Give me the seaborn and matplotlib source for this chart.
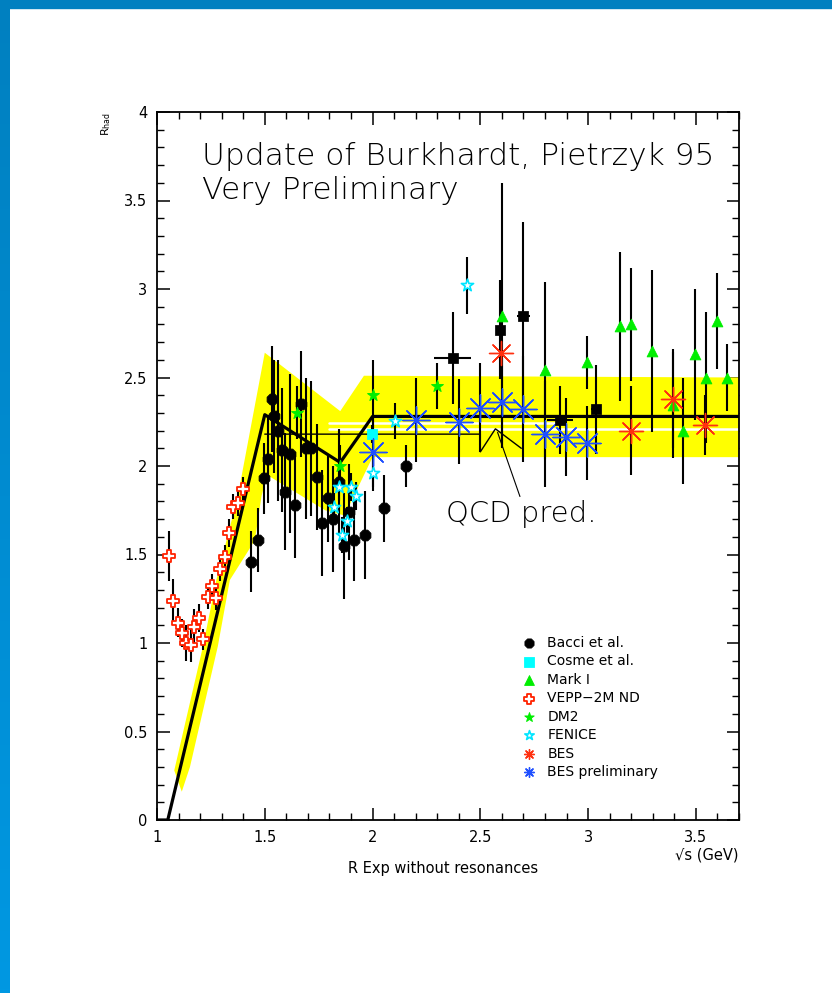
import numpy as np
import pandas as pd
import matplotlib
matplotlib.use("Agg")
import matplotlib.pyplot as plt
import seaborn as sns
from matplotlib.ticker import MultipleLocator
from matplotlib.patches import Rectangle

# ---------------- data ----------------
bacci_x = [1.438, 1.469, 1.495, 1.515, 1.534, 1.542, 1.562, 1.580, 1.593, 1.617, 1.642, 1.667, 1.693,
           1.716, 1.742, 1.767, 1.793, 1.816, 1.844, 1.866, 1.890, 1.912, 1.963, 2.052, 2.153]
bacci_y = [1.46, 1.58, 1.93, 2.04, 2.38, 2.28, 2.20, 2.09, 1.855, 2.07, 1.78, 2.35, 2.10,
           2.10, 1.94, 1.68, 1.82, 1.70, 1.91, 1.55, 1.74, 1.58, 1.61, 1.76, 2.00]
bacci_err = [0.17, 0.18, 0.20, 0.25, 0.30, 0.32, 0.40, 0.35, 0.33, 0.45, 0.30, 0.30, 0.40,
             0.38, 0.30, 0.30, 0.25, 0.30, 0.30, 0.30, 0.27, 0.23, 0.25, 0.19, 0.12]

other_x = [2.372, 2.591, 2.699, 2.868, 3.035]
other_y = [2.61, 2.77, 2.85, 2.26, 2.32]
other_yerr = [0.26, 0.28, 0.53, 0.19, 0.25]
other_xerr = [0.085, 0.02, 0.03, 0.06, 0.02]

cosme_x = [1.997]
cosme_y = [2.18]
cosme_err = [0.05]

mark_x = [2.599, 2.80, 2.997, 3.147, 3.197, 3.298, 3.395, 3.44, 3.495, 3.546, 3.596, 3.645]
mark_y = [2.85, 2.54, 2.585, 2.79, 2.80, 2.65, 2.345, 2.20, 2.63, 2.50, 2.82, 2.50]
mark_err = [0.75, 0.50, 0.15, 0.42, 0.32, 0.46, 0.30, 0.30, 0.37, 0.37, 0.27, 0.19]

vepp_x = [1.056, 1.076, 1.096, 1.116, 1.134, 1.156, 1.173, 1.194, 1.214, 1.235, 1.255, 1.276,
          1.293, 1.315, 1.333, 1.353, 1.376, 1.397]
vepp_y = [1.49, 1.24, 1.115, 1.056, 1.00, 0.99, 1.09, 1.14, 1.02, 1.26, 1.32, 1.256,
          1.42, 1.485, 1.62, 1.77, 1.79, 1.87]
vepp_err = [0.14, 0.12, 0.08, 0.08, 0.10, 0.10, 0.10, 0.08, 0.06, 0.07, 0.07, 0.07,
            0.07, 0.07, 0.08, 0.07, 0.07, 0.07]

dm2_x = [1.651, 1.85, 2.0, 2.30]
dm2_y = [2.30, 2.00, 2.40, 2.45]
dm2_err = [0.15, 0.12, 0.20, 0.13]

fenice_x = [1.82, 1.844, 1.86, 1.881, 1.898, 1.921, 2.0, 2.102, 2.438]
fenice_y = [1.77, 1.88, 1.61, 1.69, 1.88, 1.83, 1.96, 2.255, 3.02]
fenice_err = [0.08, 0.08, 0.10, 0.08, 0.08, 0.08, 0.10, 0.10, 0.16]

bes_x = [2.596, 3.197, 3.395, 3.544]
bes_y = [2.64, 2.20, 2.38, 2.23]
bes_err = [0.10, 0.25, 0.28, 0.17]

besp_x = [2.0, 2.202, 2.403, 2.5, 2.6, 2.699, 2.8, 2.897, 2.997]
besp_y = [2.08, 2.26, 2.25, 2.33, 2.36, 2.32, 2.18, 2.165, 2.13]
besp_err = [0.20, 0.24, 0.24, 0.25, 0.25, 0.30, 0.30, 0.22, 0.21]

theory_x = [1.0, 1.05, 1.50, 1.85, 2.00, 3.70]
theory_y = [0.0, 0.0, 2.29, 2.02, 2.28, 2.28]

band_up_x = [1.08, 1.213, 1.276, 1.375, 1.50, 1.85, 1.96, 3.70]
band_up_y = [0.28, 0.98, 1.36, 1.83, 2.64, 2.31, 2.51, 2.50]
band_lo_x = [3.70, 2.00, 1.87, 1.78, 1.51, 1.485, 1.454, 1.338, 1.282, 1.153, 1.115]
band_lo_y = [2.05, 2.05, 1.72, 1.75, 1.95, 1.83, 1.58, 1.356, 0.98, 0.30, 0.16]

qcd_x = [1.5, 2.5, 2.5, 2.57, 2.69]
qcd_y = [2.18, 2.18, 2.08, 2.21, 2.10]

white_hi_x = [1.80, 2.88]
white_hi_y = [2.245, 2.245]
white_lo_x = [1.80, 3.70]
white_lo_y = [2.21, 2.21]

x_ticks = [1, 1.5, 2, 2.5, 3, 3.5]
x_ticklabels = ["1", "1.5", "2", "2.5", "3", "3.5"]
y_ticks = [0, 0.5, 1, 1.5, 2, 2.5, 3, 3.5, 4]
y_ticklabels = ["0", "0.5", "1", "1.5", "2", "2.5", "3", "3.5", "4"]

# ---------------- figure ----------------
sns.set_theme(style="white")
plt.rcParams['font.family'] = ['DejaVu Sans']
plt.rcParams['text.color'] = 'black'
plt.rcParams['axes.labelcolor'] = 'black'
plt.rcParams['xtick.color'] = 'black'
plt.rcParams['ytick.color'] = 'black'

W, H = 832, 993
fig = plt.figure(figsize=(W / 100, H / 100), dpi=100)
fig.patch.set_facecolor("white")

# blue slide frame (left and top)
grad = fig.add_axes([0, 0, 10 / W, 1])
grad.imshow(np.linspace(0, 1, 256).reshape(-1, 1), aspect="auto",
            cmap=matplotlib.colors.LinearSegmentedColormap.from_list("b", ["#0080C0", "#0098E2"]),
            extent=[0, 1, 0, 1], origin="upper")
grad.axis("off")
fig.patches.append(Rectangle((0, 1 - 8 / H), 1, 8 / H, transform=fig.transFigure,
                             color="#0080C0", zorder=5))

ax = fig.add_axes([157 / W, 1 - 820 / H, (739 - 157) / W, (820 - 112) / H])
ax.set_facecolor("white")

# yellow band
poly_x = band_up_x + band_lo_x
poly_y = band_up_y + band_lo_y
ax.fill(poly_x, poly_y, color="#FFFF00", lw=0, zorder=1)

# white lines in band
ax.plot(white_hi_x, white_hi_y, color="white", lw=1.8, zorder=1.5)
ax.plot(white_lo_x, white_lo_y, color="white", lw=1.8, zorder=1.5)

# error bars
eb = dict(fmt="none", ecolor="black", elinewidth=1.5, capsize=0, zorder=2)
ax.errorbar(bacci_x, bacci_y, yerr=bacci_err, **eb)
ax.errorbar(other_x, other_y, yerr=other_yerr, xerr=other_xerr, **eb)
ax.errorbar(cosme_x, cosme_y, yerr=cosme_err, **eb)
ax.errorbar(mark_x, mark_y, yerr=mark_err, **eb)
ax.errorbar(vepp_x, vepp_y, yerr=vepp_err, **eb)
ax.errorbar(dm2_x, dm2_y, yerr=dm2_err, **eb)
ax.errorbar(fenice_x, fenice_y, yerr=fenice_err, **eb)
ax.errorbar(bes_x, bes_y, yerr=bes_err, **eb)
ax.errorbar(besp_x, besp_y, yerr=besp_err, **eb)

# theory lines
sns.lineplot(x=theory_x, y=theory_y, sort=False, estimator=None, color="black", lw=2.3,
             ax=ax, zorder=3)
sns.lineplot(x=qcd_x, y=qcd_y, sort=False, estimator=None, color="black", lw=1.0,
             ax=ax, zorder=3)

# markers
ast = (8, 2, 0)
sns.scatterplot(x=bacci_x, y=bacci_y, marker="8", s=70, color="black", edgecolor="black",
                label="Bacci et al.", ax=ax, zorder=4)
sns.scatterplot(x=cosme_x, y=cosme_y, marker="s", s=55, color="#00FFFF", edgecolor="#00FFFF",
                label="Cosme et al.", ax=ax, zorder=4)
sns.scatterplot(x=mark_x, y=mark_y, marker="^", s=60, color="#00EE00", edgecolor="#00EE00",
                label="Mark I", ax=ax, zorder=4)
sns.scatterplot(x=vepp_x, y=vepp_y, marker="P", s=80, color="white", edgecolor="#FF2200",
                linewidth=1.3, label="VEPP\u22122M ND", ax=ax, zorder=4)
sns.scatterplot(x=dm2_x, y=dm2_y, marker="*", s=80, color="#00EE00", edgecolor="#00EE00",
                label="DM2", ax=ax, zorder=4)
sns.scatterplot(x=fenice_x, y=fenice_y, marker="*", s=85, color="white", edgecolor="#00E5FF",
                linewidth=1.2, label="FENICE", ax=ax, zorder=4)
sns.scatterplot(x=bes_x, y=bes_y, marker=ast, s=300, color="#FF3010", linewidth=1.0,
                label="BES", ax=ax, zorder=4)
sns.scatterplot(x=besp_x, y=besp_y, marker=ast, s=380, color="#2050FF", linewidth=1.0,
                label="BES preliminary", ax=ax, zorder=4)
sns.scatterplot(x=besp_x, y=besp_y, marker="o", s=10, color="#2050FF", edgecolor="#2050FF",
                ax=ax, zorder=4)
sns.scatterplot(x=other_x, y=other_y, marker="s", s=45, color="black", edgecolor="black",
                ax=ax, zorder=4)

# pointer to QCD label
ax.annotate("QCD pred.", xy=(2.58, 2.19), xytext=(2.34, 1.73), fontsize=21,
            ha="left", va="center", color="black", fontweight="light",
            arrowprops=dict(arrowstyle="-", color="black", lw=0.8,
                            shrinkA=0, shrinkB=0, relpos=(0.5, 1.0)))

# text
ax.text(1.21, 3.75, "Update of Burkhardt, Pietrzyk 95", fontsize=22.5, va="center", ha="left",
        fontweight="light")
ax.text(1.21, 3.555, "Very Preliminary", fontsize=22.5, va="center", ha="left",
        fontweight="light")

# axes
ax.set_xlim(1, 3.7)
ax.set_ylim(0, 4)
ax.set_xticks(x_ticks)
ax.set_xticklabels(x_ticklabels)
ax.set_yticks(y_ticks)
ax.set_yticklabels(y_ticklabels)
ax.xaxis.set_minor_locator(MultipleLocator(0.1))
ax.yaxis.set_minor_locator(MultipleLocator(0.1))
ax.tick_params(which="major", direction="in", top=True, right=True, bottom=True, left=True,
               length=9, width=1.1, labelsize=10.5, pad=7, color="black", labelcolor="black")
ax.tick_params(which="minor", direction="in", top=True, right=True, bottom=True, left=True,
               length=5, width=1.0, color="black")
for s in ax.spines.values():
    s.set_color("black")
    s.set_linewidth(1.3)
ax.set_xlabel("")
ax.set_ylabel("")

ax.text(-0.088, 1.0, r"R$_{\rm had}$", transform=ax.transAxes, rotation=90,
        fontsize=8, ha="center", va="top")
ax.text(1.0, -0.05, "\u221As (GeV)", transform=ax.transAxes, fontsize=10.5,
        ha="right", va="center")
ax.text(0.491, -0.068, "R Exp without resonances", transform=ax.transAxes, fontsize=10.5,
        ha="center", va="center")

leg = ax.legend(loc="upper left", bbox_to_anchor=(0.625, 0.26), frameon=False, fontsize=10,
                borderpad=0, borderaxespad=0, labelspacing=0.32, handletextpad=0.7,
                handlelength=1.2)
for h in leg.legend_handles:
    try:
        h.set_sizes([50])
    except Exception:
        pass
for t in leg.get_texts():
    t.set_color("black")

fig.savefig("out.png", dpi=100, facecolor="white")
